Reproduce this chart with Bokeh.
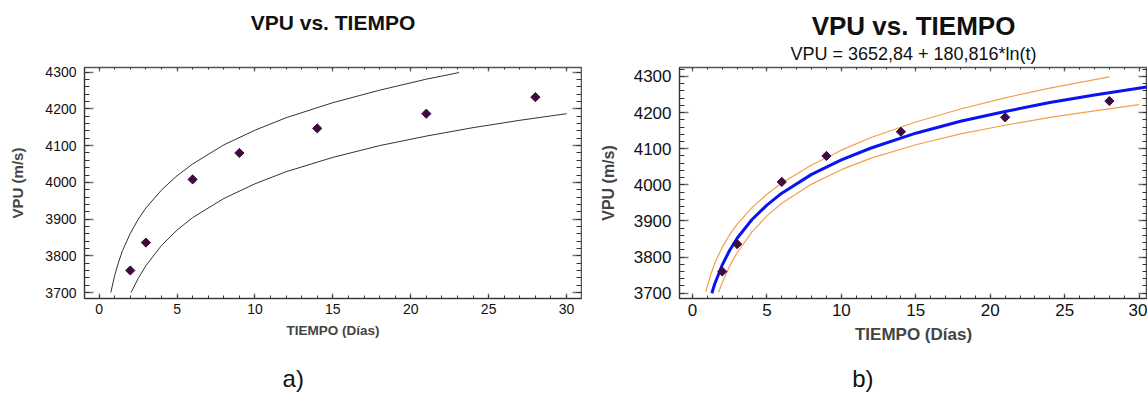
from bokeh.plotting import figure
from bokeh.models import (LinearAxis, Title, SingleIntervalTicker, FixedTicker, Range1d,
                          CustomJSTickFormatter)
from bokeh.layouts import row
from bokeh.embed import file_html
from bokeh.resources import INLINE

# ---------------- data ----------------
T_OBS = [2, 3, 6, 9, 14, 21, 28]
VPU_OBS = [3760, 3836, 4008, 4080, 4147, 4187, 4232]

# panel a: prediction limits
A_UPPER_T = [0.75, 1.0, 1.25, 1.5, 2, 2.5, 3, 4, 5, 6, 8, 10, 12, 15, 18, 21, 23.1]
A_UPPER_V = [3700, 3747, 3783, 3814, 3861, 3899, 3930, 3979, 4018, 4050, 4102, 4142, 4176, 4217, 4251, 4281, 4299]
A_LOWER_T = [2.05, 2.5, 3, 4, 5, 6, 8, 10, 12, 15, 18, 21, 24, 27, 30]
A_LOWER_V = [3700, 3738, 3773, 3828, 3870, 3904, 3956, 3996, 4029, 4068, 4100, 4126, 4149, 4169, 4187]

# panel b: fitted model and confidence limits
B_FIT_T = [1.3, 1.5, 2, 2.5, 3, 4, 5, 6, 8, 10, 12, 15, 18, 21, 24, 27, 30.5]
B_FIT_V = [3700, 3726, 3778, 3819, 3852, 3904, 3944, 3977, 4029, 4069, 4102, 4143, 4176, 4203, 4228, 4249, 4271]
B_UPPER_T = [0.9, 1.0, 1.25, 1.5, 2, 2.5, 3, 4, 5, 6, 8, 10, 12, 15, 18, 21, 24, 28]
B_UPPER_V = [3704, 3720, 3754, 3783, 3827, 3862, 3891, 3937, 3974, 4005, 4055, 4096, 4131, 4174, 4210, 4241, 4268, 4299]
B_LOWER_T = [1.75, 2, 2.5, 3, 4, 5, 6, 8, 10, 12, 15, 18, 21, 24, 27, 30]
B_LOWER_V = [3702, 3729, 3775, 3812, 3870, 3914, 3949, 4002, 4042, 4074, 4111, 4141, 4165, 4187, 4205, 4222]

TITLE = "VPU vs. TIEMPO"
SUBTITLE = "VPU = 3652,84 + 180,816*ln(t)"
X_LABEL = "TIEMPO (Días)"
Y_LABEL = "VPU (m/s)"
PANEL_TAGS = ["a)", "b)"]

FONT = "Liberation Sans"
POINT_COLOR = "#3f0a3f"


def style_axis(ax, tick_font, show_labels, major_in, minor_in):
    ax.major_tick_out = 0
    ax.minor_tick_out = 0
    ax.major_tick_in = major_in
    ax.minor_tick_in = minor_in
    ax.major_tick_line_color = "#777777"
    ax.major_tick_line_width = 1.5
    ax.minor_tick_line_color = "#333333"
    ax.minor_tick_line_width = 1
    ax.major_label_text_font = FONT
    ax.major_label_text_color = "#111111"
    ax.axis_line_color = "#333333"
    ax.major_label_text_font_size = tick_font
    if not show_labels:
        ax.formatter = CustomJSTickFormatter(code="return ''")
        ax.major_label_standoff = 0
        ax.axis_line_color = None


def make_panel(width, bl, br, bt, bb, xr, yr, tick_font, xlab_font, ylab_font, lab_x, xlab_gap):
    p = figure(width=width, height=398, x_range=Range1d(*xr), y_range=Range1d(*yr),
               output_backend="svg", toolbar_location=None, title=None,
               min_border_left=bl, min_border_right=br, min_border_top=bt,
               min_border_bottom=bb)
    p.grid.visible = False
    p.outline_line_color = "#555555"
    p.outline_line_width = 1.5
    p.background_fill_color = "white"
    p.border_fill_color = "white"

    p.xaxis.ticker = SingleIntervalTicker(interval=5, num_minor_ticks=5)
    p.yaxis.ticker = SingleIntervalTicker(interval=100, num_minor_ticks=5)
    for ax in p.xaxis:
        style_axis(ax, tick_font, True, 5, 3)
        ax.major_label_standoff = 5
        ax.axis_label = X_LABEL
        ax.axis_label_text_font = FONT
        ax.axis_label_text_font_style = "bold"
        ax.axis_label_text_font_size = xlab_font
        ax.axis_label_standoff = xlab_gap
    for ax in p.yaxis:
        style_axis(ax, tick_font, True, 9, 5)
        ax.major_label_standoff = 8
        ax.axis_label = Y_LABEL
        ax.axis_label_text_font = FONT
        ax.axis_label_text_font_style = "bold"
        ax.axis_label_text_font_size = ylab_font
        ax.axis_label_standoff = lab_x

    top = LinearAxis(ticker=SingleIntervalTicker(interval=5, num_minor_ticks=5))
    style_axis(top, "1px", False, 4, 2)
    right = LinearAxis(ticker=SingleIntervalTicker(interval=100, num_minor_ticks=5))
    style_axis(right, "1px", False, 9, 5)
    p.add_layout(top, "above")
    p.add_layout(right, "right")
    return p, top


def add_tag(p, tag, x_pos, gap):
    """Panel tag ('a)' / 'b)') drawn as the single label of an extra bottom axis."""
    ax = LinearAxis(ticker=FixedTicker(ticks=[x_pos], minor_ticks=[]),
                    major_label_overrides={x_pos: tag})
    ax.major_tick_in = 0
    ax.major_tick_out = 0
    ax.axis_line_color = None
    ax.major_label_standoff = gap
    ax.major_label_text_font = FONT
    ax.major_label_text_font_size = "24px"
    ax.major_label_text_color = "#111111"
    p.add_layout(ax, "below")


def draw_points(p):
    p.scatter(T_OBS, VPU_OBS, marker="square", angle=0.785398, size=6.5,
              fill_color=POINT_COLOR, line_color=POINT_COLOR)


# ---------------- panel a ----------------
pa, pa_top = make_panel(582, 84, 1, 67, 100, (-0.94, 30.96), (3683.7, 4312.8),
                        "14px", "13.5px", "15px", 16, 6)
pa.line(A_UPPER_T, A_UPPER_V, line_color="#333333", line_width=1)
pa.line(A_LOWER_T, A_LOWER_V, line_color="#333333", line_width=1)
draw_points(pa)
pa_top.axis_label = TITLE
pa_top.axis_label_text_font = FONT
pa_top.axis_label_text_font_size = "21px"
pa_top.axis_label_text_font_style = "bold"
pa_top.axis_label_text_color = "#111111"
pa_top.axis_label_standoff = 34
add_tag(pa, PANEL_TAGS[0], 12.46, 24)

# ---------------- panel b ----------------
pb, pb_top = make_panel(565, 97, 0, 67, 100, (-0.87, 30.56), (3685.3, 4324.9),
                        "17px", "17px", "16px", 14, 6)
pb.line(B_UPPER_T, B_UPPER_V, line_color="#f0a050", line_width=1.2)
pb.line(B_LOWER_T, B_LOWER_V, line_color="#f0a050", line_width=1.2)
pb.line(B_FIT_T, B_FIT_V, line_color="#0a14f0", line_width=3)
draw_points(pb)
pb_top.axis_label = SUBTITLE
pb_top.axis_label_text_font = FONT
pb_top.axis_label_text_font_size = "18px"
pb_top.axis_label_text_font_style = "normal"
pb_top.axis_label_text_color = "#111111"
pb_top.axis_label_standoff = 4
pb.add_layout(Title(text=TITLE, align="center", text_font=FONT, text_font_size="26px",
                    text_font_style="bold", text_color="#111111", standoff=0), "above")
add_tag(pb, PANEL_TAGS[1], 11.44, 18)

layout = row(pa, pb, spacing=0)
open("out.html", "w").write(file_html(layout, INLINE))
